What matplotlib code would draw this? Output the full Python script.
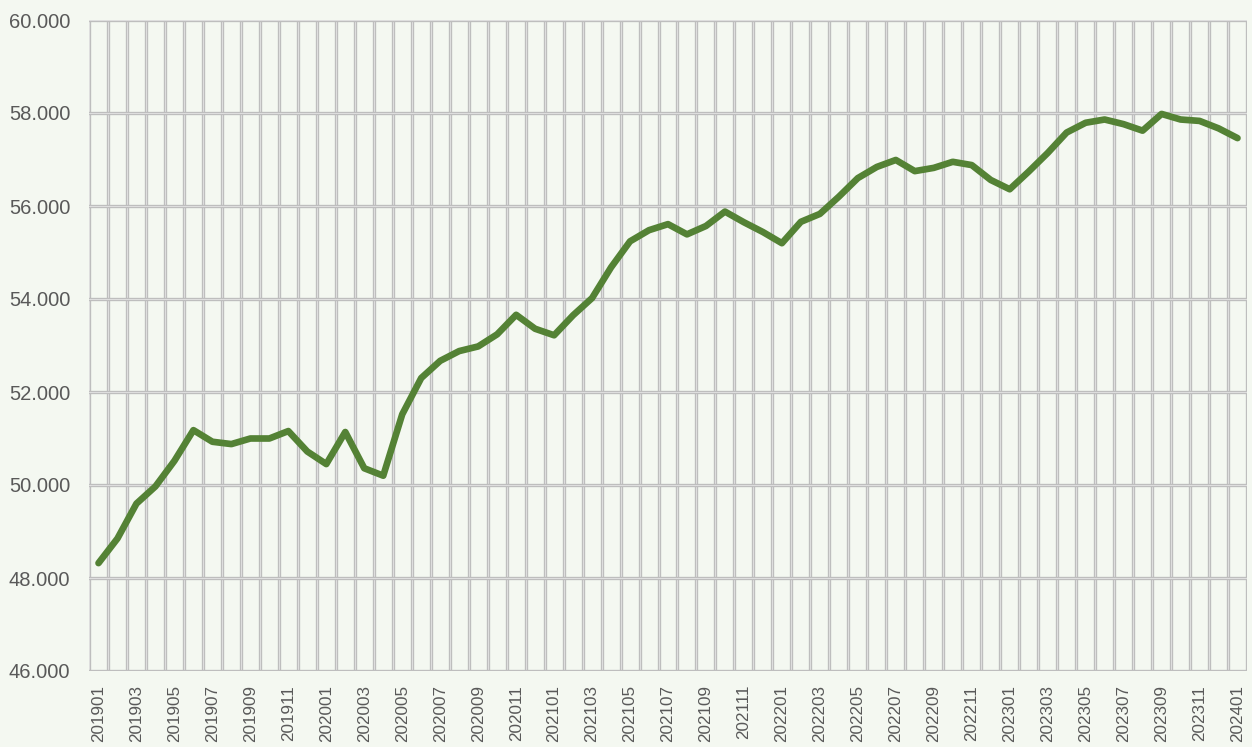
import matplotlib
matplotlib.use("Agg")
import matplotlib.pyplot as plt

months = [f"{y}{m:02d}" for y in range(2019, 2024) for m in range(1, 13)] + ["202401"]
values = [
    48.32, 48.85, 49.60, 49.97, 50.52, 51.18, 50.93, 50.88, 51.00, 51.00, 51.16, 50.72,
    50.45, 51.14, 50.36, 50.20, 51.52, 52.30, 52.67, 52.88, 52.98, 53.24, 53.66, 53.36,
    53.22, 53.65, 54.02, 54.68, 55.24, 55.48, 55.61, 55.39, 55.57, 55.88, 55.65, 55.44,
    55.20, 55.66, 55.83, 56.20, 56.60, 56.84, 56.99, 56.75, 56.82, 56.95, 56.88, 56.56,
    56.36, 56.74, 57.14, 57.58, 57.79, 57.86, 57.76, 57.62, 57.98, 57.86, 57.83, 57.67,
    57.46,
]
y_ticks = [46, 48, 50, 52, 54, 56, 58, 60]

fam = "Liberation Sans"
bg = "#f4f8f1"
fig = plt.figure(figsize=(12.52, 7.47), dpi=100, facecolor=bg)
ax = fig.add_axes([89 / 1252, 1 - 671 / 747, (1247 - 89) / 1252, (671 - 20) / 747])
ax.set_facecolor(bg)

n = len(months)
ax.set_xlim(-0.5, n - 0.5)
ax.set_ylim(46, 60)

for k in range(n + 1):
    ax.axvline(k - 0.5, color="#bdbdbd", lw=2.4, zorder=1)
    ax.axvline(k - 0.5, color="#dedede", lw=0.8, zorder=1)
for yv in y_ticks:
    ax.axhline(yv, color="#bdbdbd", lw=2.4, zorder=1)
    ax.axhline(yv, color="#dedede", lw=0.8, zorder=1)

for s in ax.spines.values():
    s.set_visible(False)

ax.plot(range(n), values, color="#548235", lw=4.8, solid_joinstyle="round",
        solid_capstyle="round", zorder=3)

ax.set_yticks(y_ticks)
ax.set_yticklabels([f"{v}.000" for v in y_ticks], fontsize=14.5, color="#595959", family=fam)
ax.set_xticks(range(0, n, 2))
ax.set_xticklabels(months[::2], rotation=90, fontsize=12.3, color="#595959", family=fam)
ax.tick_params(axis="both", length=0)
ax.tick_params(axis="y", pad=13.5)
ax.tick_params(axis="x", pad=10)

fig.savefig("out.png", dpi=100, facecolor=bg)
